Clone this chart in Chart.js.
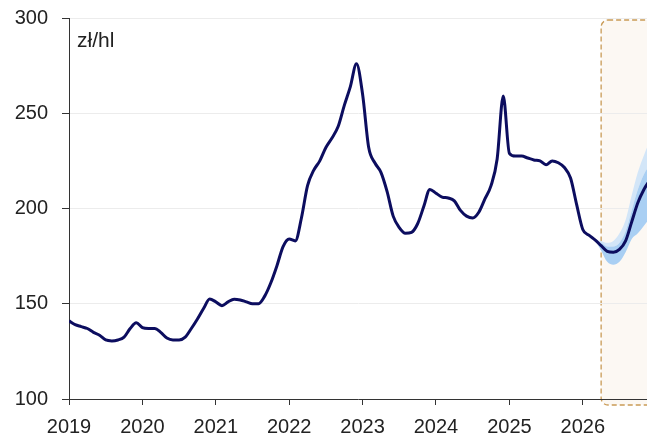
<!DOCTYPE html>
<html>
<head>
<meta charset="utf-8">
<script src="https://cdn.jsdelivr.net/npm/chart.js@4"></script>
<style>
  html, body { margin: 0; padding: 0; background: #fff; }
</style>
</head>
<body>
<canvas id="chart" width="647" height="437"></canvas>
<script>
// monthly price, Jan 2019 .. Dec 2026 (zł/hl)
const startYear = 2019
const price = [
  141, 139, 138, 137, 135, 133.5, 131, 130.5, 131, 132.5, 137, 140,
  137.5, 137, 137, 135, 132, 131, 131, 132.5, 137, 142, 147.5, 152.5,
  151, 149, 151, 152.4, 152, 151, 150, 150, 154, 161, 170, 180,
  184, 183, 195, 212, 220, 225, 232, 237, 243, 254, 264, 276,
  260, 232, 224, 219, 209, 196, 190, 187, 187.5, 192, 201, 210,
  208, 206, 205.5, 204, 199, 196, 195, 198, 205, 212, 226, 259,
  229, 227.5, 227.5, 226.5, 225.5, 225, 223, 225, 224, 221.5, 216, 202,
  189, 186, 183.5, 180.5, 177.5, 177, 178.5, 183, 193, 203, 210, 215
]
// forecast fan, from Mar 2026 (index 86)
const fanStart = 86
const fanLow = [183.5, 178, 172, 170.5, 172, 177, 184, 187, 191, 195]
const fanMid = [183.5, 182, 180, 180, 182, 188, 199, 210, 218, 223]
const fanHigh = [183.5, 183, 182, 183, 187, 194, 207, 219, 228, 236]
const forecastStart = 2026.25
const yTicks = [100, 150, 200, 250, 300]

function toPoints(values, offset) {
  return values.map((v, i) => ({ x: startYear + (i + offset) / 12, y: v }))
}

Chart.defaults.font.family = "'Liberation Sans', Arial, sans-serif"
Chart.defaults.font.size = 20
Chart.defaults.color = '#222'

const forecastBox = {
  id: 'forecastBox',
  beforeDraw(chart) {
    const { ctx, chartArea, scales: { x } } = chart
    const left = x.getPixelForValue(forecastStart)
    const top = chartArea.top + 2
    const bottom = chartArea.bottom + 6
    const right = chartArea.right + 12
    ctx.save()
    ctx.beginPath()
    ctx.roundRect(left, top, right - left, bottom - top, 7)
    ctx.fillStyle = '#fcf8f3'
    ctx.fill()
    ctx.setLineDash([5, 3])
    ctx.strokeStyle = '#c99a55'
    ctx.lineWidth = 1.3
    ctx.stroke()
    ctx.restore()
  },
  afterDatasetsDraw(chart) {
    const { ctx, chartArea } = chart
    ctx.save()
    ctx.font = "21px 'Liberation Sans', Arial, sans-serif"
    ctx.fillStyle = '#222'
    ctx.textBaseline = 'alphabetic'
    ctx.fillText('zł/hl', chartArea.left + 8, chartArea.top + 29)
    ctx.restore()
  }
}

new Chart(document.getElementById('chart'), {
  type: 'line',
  data: {
    datasets: [
      {
        data: toPoints(price, 0),
        borderColor: '#0c0d5f',
        borderWidth: 3,
        pointRadius: 0,
        cubicInterpolationMode: 'monotone',
        fill: false
      },
      {
        data: toPoints(fanLow, fanStart),
        borderWidth: 0,
        borderColor: 'transparent',
        pointRadius: 0,
        cubicInterpolationMode: 'monotone',
        fill: false
      },
      {
        data: toPoints(fanMid, fanStart),
        borderWidth: 0,
        borderColor: 'transparent',
        backgroundColor: '#a9cff3',
        pointRadius: 0,
        cubicInterpolationMode: 'monotone',
        fill: 1
      },
      {
        data: toPoints(fanHigh, fanStart),
        borderWidth: 0,
        borderColor: 'transparent',
        backgroundColor: '#d3e6f8',
        pointRadius: 0,
        cubicInterpolationMode: 'monotone',
        fill: 2
      }
    ]
  },
  options: {
    responsive: false,
    animation: false,
    layout: { autoPadding: false, padding: { top: 18, right: 0, left: 0, bottom: 0 } },
    plugins: {
      legend: { display: false },
      tooltip: { enabled: false }
    },
    scales: {
      x: {
        type: 'linear',
        min: 2019,
        max: 2026.875,
        afterFit: s => { s.height = 38; s.paddingLeft = 0; s.paddingRight = 0 },
        ticks: {
          stepSize: 1,
          includeBounds: false,
          padding: 10,
          maxRotation: 0,
          callback: v => String(v)
        },
        grid: {
          drawOnChartArea: false,
          tickLength: 6,
          tickColor: '#333'
        },
        border: { color: '#333', width: 1 }
      },
      y: {
        min: 100,
        max: 300,
        afterFit: s => { s.width = 69; s.paddingTop = 0; s.paddingBottom = 0 },
        afterBuildTicks: s => { s.ticks = yTicks.map(v => ({ value: v })) },
        ticks: { padding: 14 },
        grid: {
          color: '#ececec',
          tickLength: 7,
          tickColor: '#333'
        },
        border: { color: '#333', width: 1 }
      }
    }
  },
  plugins: [forecastBox]
})
</script>
</body>
</html>
